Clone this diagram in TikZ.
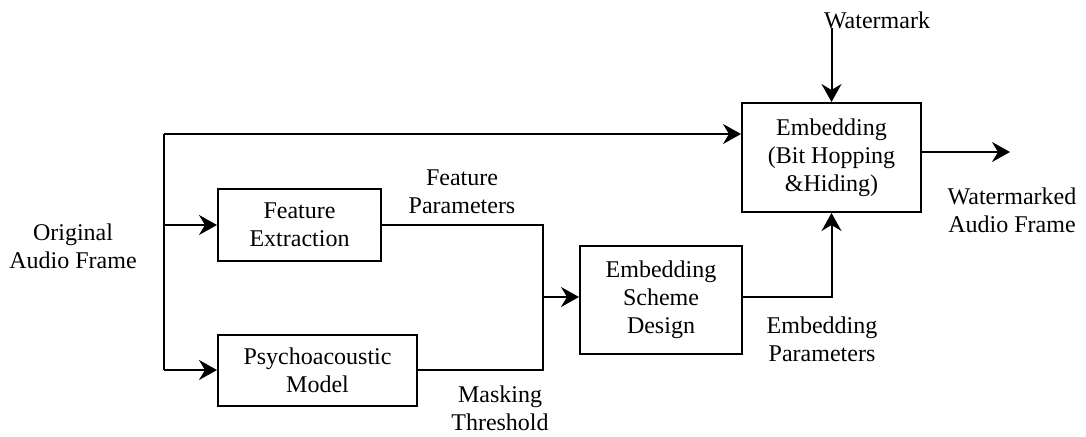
\documentclass[tikz,border=0pt]{standalone}
\usepackage{fontspec}
\setmainfont{LiberationSerif}[Extension=.ttf, UprightFont=*-Regular, BoldFont=*-Bold]
\usetikzlibrary{arrows.meta}
\tikzset{
    procbox/.style={draw, align=center, inner sep=0pt},
    lbl/.style={align=center, inner sep=0pt},
    flow/.style={-{Stealth[length=9pt,width=10pt,inset=3pt]}}
}
\newcommand\procbox[6]{% name, x, y, width, height, text
    \node[procbox, minimum width=#4pt, minimum height=#5pt] (#1) at (#2,#3) {#6};%
}

\begin{document}
\begin{tikzpicture}[x=1pt, y=1pt, line width=1pt, font=\fontsize{12}{14}\selectfont]
    \useasboundingbox (0,0) rectangle (543,218);

    % Processing blocks
    \procbox{fe}{149.75}{105.5}{81.5}{36}{Feature\\Extraction}
    \procbox{pm}{158.75}{33}{99.5}{35.5}{Psychoacoustic\\Model}
    \procbox{esd}{330.5}{68}{81}{54}{Embedding\\Scheme\\Design}
    \procbox{emb}{415.75}{139.25}{89.5}{54.5}{Embedding\\(Bit Hopping\\\&Hiding)}

    % Branch and junction points
    \coordinate (src) at (82,151);
    \coordinate (join) at (271.5,69.5);
    \coordinate (wmin) at (415.75,204);
    \coordinate (out) at (505,142);

    % Signal labels
    \node[lbl] (orig) at (36.5,95) {Original\\Audio Frame};
    \node[lbl] (fpar) at (231,122) {Feature\\Parameters};
    \node[lbl] (mthr) at (250,14) {Masking\\Threshold};
    \node[lbl] (epar) at (411,48.5) {Embedding\\Parameters};
    \node[lbl] (wmk) at (438.5,208) {Watermark};
    \node[lbl] (wout) at (506,113) {Watermarked\\Audio Frame};

    % Audio frame goes to the embedder and to both analysis blocks
    \draw[flow] (src) -- (src -| emb.west);
    \draw (src) -- (src |- pm.west);
    \foreach \blk in {fe,pm} {
        \draw[flow] (src |- \blk.west) -- (\blk.west);
    }

    % Both analysis results feed the scheme design
    \draw (fe.east) -| (join) |- (pm.east);
    \draw[flow] (join) -- (join -| esd.west);
    \draw[flow] (join -| esd.east) -| (emb.south);

    % Watermark in, watermarked frame out
    \draw[flow] (wmin) -- (emb.north);
    \draw[flow] (emb.east |- out) -- (out);
\end{tikzpicture}
\end{document}
